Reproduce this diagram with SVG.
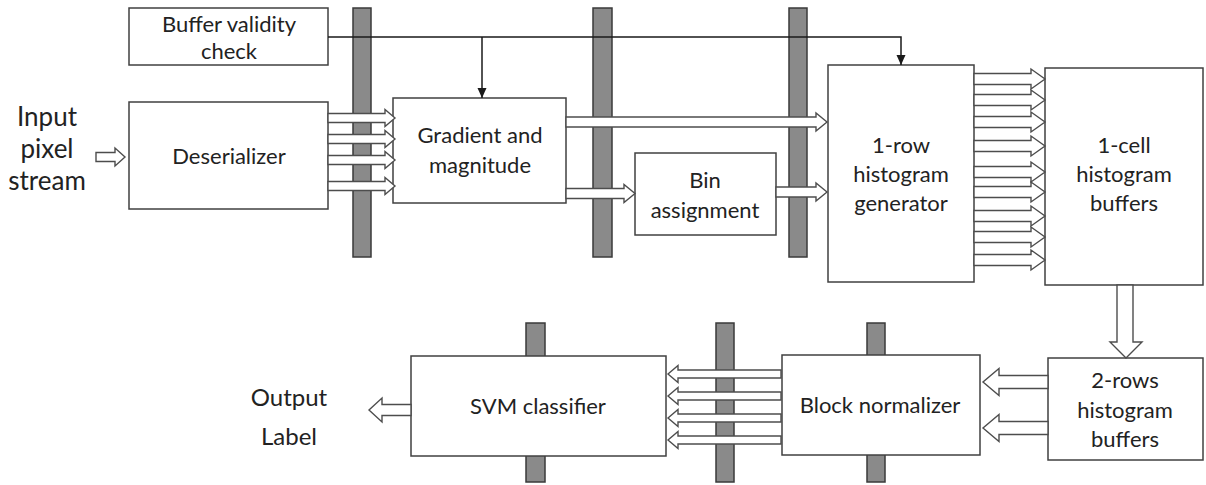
<svg xmlns="http://www.w3.org/2000/svg" width="1206" height="485" viewBox="0 0 1206 485">
  <style>
    .bg { fill: #ffffff; }
    .bar { fill: #8a8a8a; stroke: #3a3a3a; stroke-width: 1.5; }
    .box { fill: #ffffff; stroke: #404040; stroke-width: 1.5; }
    .barrow { fill: #ffffff; stroke: #4d4d4d; stroke-width: 1.4; stroke-linejoin: miter; }
    .line { fill: none; stroke: #1a1a1a; stroke-width: 1.5; }
    text { font-family: Lato, "Open Sans", "Liberation Sans", sans-serif; font-size: 22px; fill: #222222; text-anchor: middle; }
    .io { font-size: 26px; }
    .out { font-size: 24px; }
  </style>
  <defs>
    <marker id="tri" markerUnits="userSpaceOnUse" markerWidth="10" markerHeight="10" viewBox="0 0 10 10" refX="10" refY="5" orient="auto">
      <path d="M0,0.5 L10,5 L0,9.5 Z" fill="#1a1a1a"/>
    </marker>
  </defs>
  <rect class="bg" x="0" y="0" width="1206" height="485"/>

  <g id="pipeline-registers">
    <rect class="bar" x="353" y="8" width="18" height="249"/>
    <rect class="bar" x="593" y="8" width="19" height="249"/>
    <rect class="bar" x="789" y="8" width="18" height="249"/>
    <rect class="bar" x="526" y="323" width="19" height="159"/>
    <rect class="bar" x="716" y="323" width="18" height="159"/>
    <rect class="bar" x="867" y="323" width="18" height="159"/>
  </g>

  <g id="input-label">
    <text class="io" x="47" y="126">Input</text>
    <text class="io" x="47" y="158">pixel</text>
    <text class="io" x="47" y="190">stream</text>
  </g>

  <g id="buffer-validity-check">
    <rect class="box" x="129" y="8" width="199" height="57"/>
    <text x="229" y="32">Buffer validity</text>
    <text x="229" y="59">check</text>
  </g>

  <g id="deserializer">
    <rect class="box" x="129" y="102" width="199" height="107"/>
    <text x="229" y="164">Deserializer</text>
  </g>

  <g id="gradient-magnitude">
    <rect class="box" x="393" y="98" width="173" height="105"/>
    <text x="480" y="143">Gradient and</text>
    <text x="480" y="173">magnitude</text>
  </g>

  <g id="bin-assignment">
    <rect class="box" x="635" y="153" width="141" height="82"/>
    <text x="705" y="188">Bin</text>
    <text x="705" y="218">assignment</text>
  </g>

  <g id="row-histogram-generator">
    <rect class="box" x="828" y="65" width="146" height="217"/>
    <text x="901" y="153">1-row</text>
    <text x="901" y="182">histogram</text>
    <text x="901" y="211">generator</text>
  </g>

  <g id="cell-histogram-buffers">
    <rect class="box" x="1045" y="68" width="158" height="217"/>
    <text x="1124" y="153">1-cell</text>
    <text x="1124" y="182">histogram</text>
    <text x="1124" y="211">buffers</text>
  </g>

  <g id="rows-histogram-buffers">
    <rect class="box" x="1048" y="358" width="155" height="102"/>
    <text x="1125" y="388">2-rows</text>
    <text x="1125" y="418">histogram</text>
    <text x="1125" y="447">buffers</text>
  </g>

  <g id="block-normalizer">
    <rect class="box" x="782" y="355" width="198" height="100"/>
    <text x="880" y="413">Block normalizer</text>
  </g>

  <g id="svm-classifier">
    <rect class="box" x="411" y="356" width="255" height="100"/>
    <text x="538" y="414">SVM classifier</text>
  </g>

  <g id="output-label">
    <text class="out" x="289" y="406">Output</text>
    <text class="out" x="289" y="445">Label</text>
  </g>

  <g id="connectors">
    <polygon class="barrow" points="96,152.5 115,152.5 115,148 125,157 115,166 115,161.5 96,161.5"/>

    <polygon class="barrow" points="328,113.5 385,113.5 385,109.5 395,118 385,126.5 385,122.5 328,122.5"/>
    <polygon class="barrow" points="328,134.5 385,134.5 385,130.5 395,139 385,147.5 385,143.5 328,143.5"/>
    <polygon class="barrow" points="328,155.5 385,155.5 385,151.5 395,160 385,168.5 385,164.5 328,164.5"/>
    <polygon class="barrow" points="328,181.5 385,181.5 385,177.5 395,186 385,194.5 385,190.5 328,190.5"/>

    <polygon class="barrow" points="566,117 816,117 816,113 827,122 816,131 816,127 566,127"/>
    <polygon class="barrow" points="566,188.5 624,188.5 624,184.5 635,193.5 624,202.5 624,198.5 566,198.5"/>
    <polygon class="barrow" points="776,187 816,187 816,183 827,192 816,201 816,197 776,197"/>

    <polygon class="barrow" points="974,73.5 1031,73.5 1031,69 1045,79 1031,89 1031,84.5 974,84.5"/>
    <polygon class="barrow" points="974,94.5 1031,94.5 1031,90 1045,100 1031,110 1031,105.5 974,105.5"/>
    <polygon class="barrow" points="974,116.5 1031,116.5 1031,112 1045,122 1031,132 1031,127.5 974,127.5"/>
    <polygon class="barrow" points="974,140.5 1031,140.5 1031,136 1045,146 1031,156 1031,151.5 974,151.5"/>
    <polygon class="barrow" points="974,166.5 1031,166.5 1031,162 1045,172 1031,182 1031,177.5 974,177.5"/>
    <polygon class="barrow" points="974,186.5 1031,186.5 1031,182 1045,192 1031,202 1031,197.5 974,197.5"/>
    <polygon class="barrow" points="974,210.5 1031,210.5 1031,206 1045,216 1031,226 1031,221.5 974,221.5"/>
    <polygon class="barrow" points="974,231.5 1031,231.5 1031,227 1045,237 1031,247 1031,242.5 974,242.5"/>
    <polygon class="barrow" points="974,254.5 1031,254.5 1031,250 1045,260 1031,270 1031,265.5 974,265.5"/>

    <polygon class="barrow" points="1117,285 1133,285 1133,342 1142,342 1126,358 1110,342 1117,342"/>

    <polygon class="barrow" points="1048,375.5 999,375.5 999,368.5 983,382 999,395.5 999,388.5 1048,388.5"/>
    <polygon class="barrow" points="1048,421.5 999,421.5 999,414.5 983,428 999,441.5 999,434.5 1048,434.5"/>

    <polygon class="barrow" points="781,370 678,370 678,365.5 668,374 678,382.5 678,378 781,378"/>
    <polygon class="barrow" points="781,392 678,392 678,387.5 668,396 678,404.5 678,400 781,400"/>
    <polygon class="barrow" points="781,414 678,414 678,409.5 668,418 678,426.5 678,422 781,422"/>
    <polygon class="barrow" points="781,436 678,436 678,431.5 668,440 678,448.5 678,444 781,444"/>

    <polygon class="barrow" points="411,404.5 382,404.5 382,398 369,410 382,422 382,415.5 411,415.5"/>

    <path class="line" d="M328,37 H901 V65" marker-end="url(#tri)"/>
    <path class="line" d="M482,37 V98" marker-end="url(#tri)"/>
  </g>
</svg>
